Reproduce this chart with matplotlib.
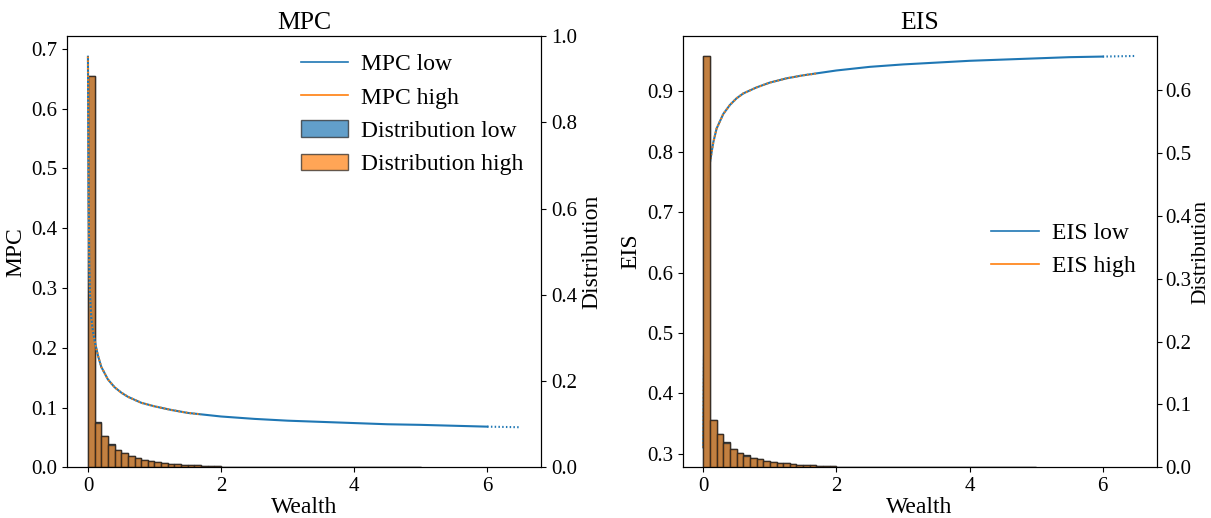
import matplotlib
matplotlib.use("Agg")
import matplotlib.pyplot as plt
from matplotlib.lines import Line2D
from matplotlib.patches import Patch
import numpy as np

plt.rcParams['font.family'] = ['Liberation Serif', 'DejaVu Serif']
plt.rcParams['font.size'] = 15

# ---- data ----
wealth_low = [0.0, 0.005, 0.01, 0.02, 0.03, 0.05, 0.075, 0.1, 0.15, 0.2, 0.3, 0.4, 0.5, 0.6,
              0.8, 1.0, 1.25, 1.5, 1.75, 2.0, 2.5, 3.0, 3.5, 4.0, 4.5, 5.0, 5.5, 6.0]
mpc_low = [0.687, 0.56, 0.45, 0.34, 0.29, 0.25, 0.228, 0.212, 0.187, 0.168, 0.147, 0.134,
           0.125, 0.118, 0.108, 0.102, 0.096, 0.091, 0.088, 0.085, 0.081, 0.078, 0.076,
           0.074, 0.072, 0.071, 0.0695, 0.068]
eis_low = [0.311, 0.38, 0.45, 0.56, 0.64, 0.72, 0.76, 0.782, 0.815, 0.838, 0.862, 0.877,
           0.888, 0.896, 0.906, 0.914, 0.921, 0.926, 0.930, 0.934, 0.940, 0.944, 0.947,
           0.950, 0.952, 0.954, 0.956, 0.957]
wealth_ext = [6.0, 6.5]
mpc_ext = [0.068, 0.067]
eis_ext = [0.957, 0.958]

wealth_high = [0.0, 0.005, 0.01, 0.02, 0.03, 0.05, 0.075, 0.1, 0.15, 0.2, 0.3, 0.4, 0.5, 0.6,
               0.8, 1.0, 1.25, 1.5, 1.7]
mpc_high = [0.687, 0.56, 0.45, 0.34, 0.29, 0.25, 0.228, 0.212, 0.187, 0.168, 0.147, 0.134,
            0.125, 0.118, 0.108, 0.102, 0.096, 0.091, 0.0885]
eis_high = [0.311, 0.38, 0.45, 0.56, 0.64, 0.72, 0.76, 0.782, 0.815, 0.838, 0.862, 0.877,
            0.888, 0.896, 0.906, 0.914, 0.921, 0.926, 0.929]

bin_edges = [0.0, 0.1, 0.2, 0.3, 0.4, 0.5, 0.6, 0.7, 0.8, 0.9, 1.0, 1.1, 1.2, 1.3, 1.4,
             1.5, 1.6, 1.7, 1.8, 1.9, 2.0, 2.5, 5.0]
dist_low = [0.654, 0.075, 0.053, 0.0395, 0.0295, 0.0233, 0.0188, 0.0155, 0.0127, 0.0105,
            0.0088, 0.0075, 0.0062, 0.0052, 0.0044, 0.0037, 0.0031, 0.0026, 0.0022, 0.0018,
            0.0011, 0.0002]
dist_high = [0.654, 0.0748, 0.0528, 0.038, 0.0294, 0.0232, 0.0187, 0.0154, 0.0126, 0.0104,
             0.0087, 0.0074, 0.0061, 0.0051, 0.0043, 0.0036, 0.0030, 0.0025, 0.0021, 0.0017,
             0.0011, 0.0002]

C0, C1 = '#1f77b4', '#ff7f0e'
lefts = np.array(bin_edges[:-1])
widths = np.diff(bin_edges)

fig = plt.figure(figsize=(12.11, 5.18), dpi=100)
ax1 = fig.add_axes([0.0556, 0.0979, 0.3912, 0.8326])
ax2 = fig.add_axes([0.5637, 0.0979, 0.3914, 0.8326])


def draw_bars(ax):
    ax.bar(lefts, dist_low, width=widths, align='edge', color=C0, alpha=0.9,
           edgecolor='#222222', linewidth=1)
    ax.bar(lefts, dist_high, width=widths, align='edge', color=C1, alpha=0.7,
           edgecolor='#222222', linewidth=1)


dot = (0, (0.7, 1.1))
LEG = dict(frameon=False, fontsize=17, handlelength=2.0, handletextpad=0.55,
           labelspacing=0.5)

# ---- MPC panel ----
draw_bars(ax1)
ax1.plot(wealth_low, mpc_low, color=C0, lw=1.5, zorder=3)
ax1.plot(wealth_ext, mpc_ext, color=C0, lw=1.5, ls=dot, zorder=3)
ax1.plot(wealth_high, mpc_high, color=C1, lw=1.5, ls=dot, zorder=4)
ax1.set_ylabel('MPC', fontsize=17, labelpad=4)
ax1.set_xlabel('Wealth', fontsize=17, labelpad=1)
ax1.set_title('MPC', fontsize=18.5, pad=5)
ax1.set_xticks([0, 2, 4, 6])
ax1.set_ylim(0, 0.7217)
ax1t = ax1.twinx()
ax1t.set_ylim(0, 1)
ax1t.set_ylabel('Distribution', fontsize=17, labelpad=3)
handles = [Line2D([], [], color=C0, lw=1.2), Line2D([], [], color=C1, lw=1.2),
           Patch(facecolor=C0, alpha=0.7, edgecolor='#222222'),
           Patch(facecolor=C1, alpha=0.7, edgecolor='#222222')]
ax1.legend(handles, ['MPC low', 'MPC high', 'Distribution low', 'Distribution high'],
           loc='upper right', borderaxespad=0.35, **LEG)

# ---- EIS panel ----
ax2.plot(wealth_low, eis_low, color=C0, lw=1.5, zorder=3)
ax2.plot(wealth_ext, eis_ext, color=C0, lw=1.5, ls=dot, zorder=3)
ax2.plot(wealth_high, eis_high, color=C1, lw=1.5, ls=dot, zorder=4)
ax2.set_ylabel('EIS', fontsize=17, labelpad=4)
ax2.set_xlabel('Wealth', fontsize=17, labelpad=1)
ax2.set_title('EIS', fontsize=18.5, pad=5)
ax2.set_xticks([0, 2, 4, 6])
ax2.set_ylim(0.278, 0.991)
ax2t = ax2.twinx()
draw_bars(ax2t)
ax2t.set_ylim(0, 0.686)
ax2t.tick_params(axis='y', pad=2.5)
ax2t.set_ylabel('Distribution', fontsize=15.5, labelpad=0)
handles2 = [Line2D([], [], color=C0, lw=1.2), Line2D([], [], color=C1, lw=1.2)]
ax2.legend(handles2, ['EIS low', 'EIS high'], loc='center right',
           bbox_to_anchor=(1.0, 0.504), **LEG)

for a in (ax1, ax2):
    a.set_xlim(-0.31, 6.81)

fig.savefig('out.png', dpi=100)
